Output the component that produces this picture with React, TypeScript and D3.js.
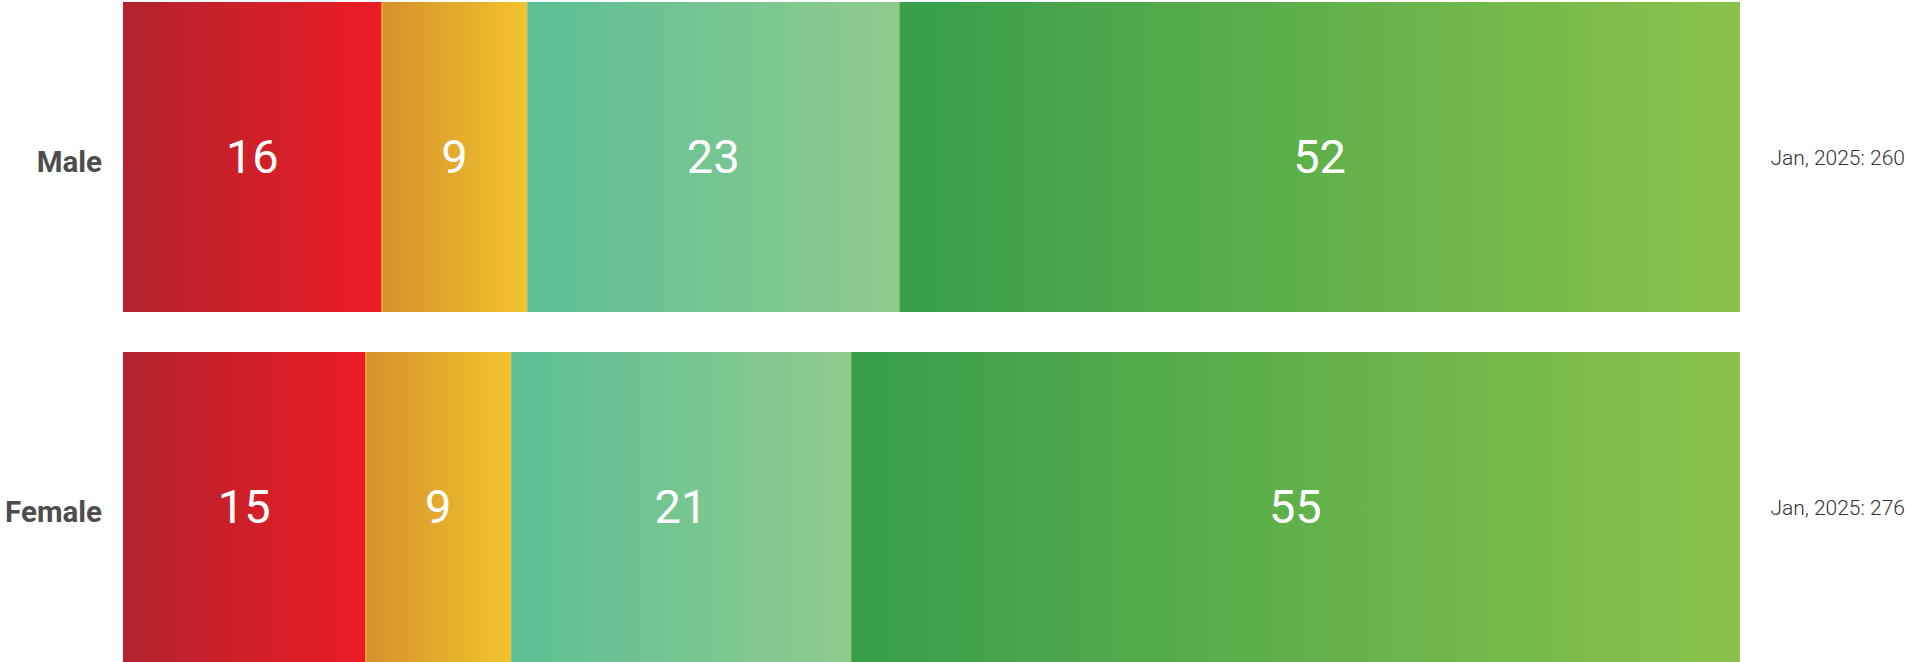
import React, { useEffect, useRef } from 'react';
import * as d3 from 'd3';

const categories = ['Male', 'Female'];
const bands = ['Poor', 'Fair', 'Good', 'Excellent'];
const maleValues = [16, 9, 23, 52];
const femaleValues = [15, 9, 21, 55];
const totals = ['Jan, 2025: 260', 'Jan, 2025: 276'];

const gradientStops: [string, string][] = [
  ['#b2232e', '#ec1c24'],
  ['#d4922a', '#f4c22e'],
  ['#5cbf95', '#8fcb8e'],
  ['#379e4a', '#8bc34b'],
];

const WIDTH = 1906;
const HEIGHT = 662;

const App: React.FC = () => {
  const svgRef = useRef<SVGSVGElement>(null);

  useEffect(() => {
    if (!svgRef.current) return;
    const svg = d3.select(svgRef.current);
    svg.selectAll('*').remove();

    const rows = [maleValues, femaleValues];

    const x = d3.scaleLinear().domain([0, 100]).range([123, 1740]);
    const y = d3.scaleBand<string>()
      .domain(categories)
      .range([2, 662])
      .paddingInner(40 / 350)
      .paddingOuter(0);

    // Gradients, one per band
    const defs = svg.append('defs');
    bands.forEach((b, i) => {
      const grad = defs.append('linearGradient')
        .attr('id', `grad-${i}`)
        .attr('x1', '0%').attr('x2', '100%')
        .attr('y1', '0%').attr('y2', '0%');
      grad.append('stop').attr('offset', '0%').attr('stop-color', gradientStops[i][0]);
      grad.append('stop').attr('offset', '100%').attr('stop-color', gradientStops[i][1]);
    });

    rows.forEach((vals, r) => {
      const cat = categories[r];
      const y0 = y(cat)!;
      const h = y.bandwidth();
      const cy = y0 + h / 2;
      const cum = d3.cumsum(vals);
      const g = svg.append('g');

      vals.forEach((v, i) => {
        const start = i === 0 ? 0 : cum[i - 1];
        const x0 = x(start);
        const x1 = x(start + v);
        g.append('rect')
          .attr('x', x0)
          .attr('y', y0)
          .attr('width', x1 - x0)
          .attr('height', h)
          .attr('fill', `url(#grad-${i})`);
        if (i > 0) {
          g.append('line')
            .attr('x1', x0 + 0.5).attr('x2', x0 + 0.5)
            .attr('y1', y0).attr('y2', y0 + h)
            .attr('stroke', gradientStops[i][1])
            .attr('stroke-opacity', 0.8)
            .attr('stroke-width', 1);
        }
        g.append('text')
          .attr('x', (x0 + x1) / 2)
          .attr('y', cy + 16)
          .attr('text-anchor', 'middle')
          .attr('fill', '#fff')
          .style('font-family', 'Roboto, sans-serif')
          .style('font-weight', 400)
          .style('font-size', '47px')
          .text(v);
      });

      // category label
      svg.append('text')
        .attr('x', 102)
        .attr('y', cy + 15)
        .attr('text-anchor', 'end')
        .attr('fill', '#4d4d4d')
        .style('font-family', 'Roboto, sans-serif')
        .style('font-weight', 700)
        .style('font-size', '29.5px')
        .text(cat);

      // total label
      svg.append('text')
        .attr('x', 1905)
        .attr('y', cy + 8)
        .attr('text-anchor', 'end')
        .attr('fill', '#333')
        .style('font-family', 'Roboto, sans-serif')
        .style('font-weight', 300)
        .style('font-size', '21px')
        .text(totals[r]);
    });
  }, []);

  return (
    <svg
      ref={svgRef}
      width={WIDTH}
      height={HEIGHT}
      style={{ position: 'absolute', left: 0, top: 0, background: '#fff' }}
    />
  );
};

export default App;
